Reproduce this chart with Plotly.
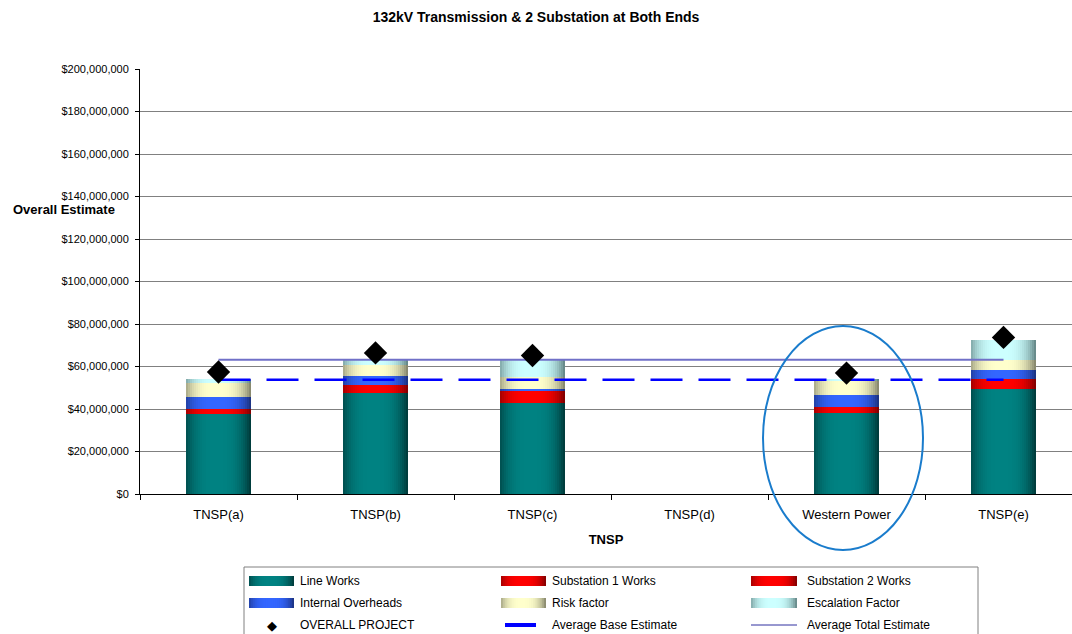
import plotly.graph_objects as go

# ---- data (AUD) ----
tnsp = ["TNSP(a)", "TNSP(b)", "TNSP(c)", "TNSP(d)", "Western Power", "TNSP(e)"]
line_works = [37.7e6, 47.5e6, 42.9e6, None, 38.1e6, 49.4e6]
substation_1 = [1.2e6, 1.9e6, 2.9e6, None, 1.4e6, 2.4e6]
substation_2 = [1.2e6, 1.9e6, 2.8e6, None, 1.4e6, 2.3e6]
internal_overheads = [5.7e6, 4.4e6, 0.9e6, None, 5.8e6, 4.4e6]
risk_factor = [6.4e6, 4.8e6, 5.4e6, None, 6.3e6, 4.7e6]
escalation_factor = [2.0e6, 2.7e6, 8.3e6, None, 1.2e6, 9.4e6]
overall_project = [57.4e6, 66.4e6, 65.2e6, None, 56.9e6, 73.7e6]
average_base = [53.8e6] * 6
average_total = [63.2e6] * 6
y_ticks = list(range(0, 200_000_001, 20_000_000))
y_tick_text = ["$" + format(v, ",") for v in y_ticks]

# ---- styling ----
FONT = "Liberation Sans, Arial, sans-serif"
W, H = 1072, 634
L, R, T, B = 140, 0, 69, 140
PW, PH = W - L - R, H - T - B
BAR_W = 0.414
N_SLICES = 32

segments = [
    ("Line Works", line_works, "#003636", "#008282"),
    ("Substation 1 Works", substation_1, "#7a0000", "#ff0000"),
    ("Substation 2 Works", substation_2, "#7a0000", "#ff0000"),
    ("Internal Overheads", internal_overheads, "#1a2f7a", "#3366ff"),
    ("Risk factor", risk_factor, "#7f7f66", "#ffffcc"),
    ("Escalation Factor", escalation_factor, "#5f8080", "#ccffff"),
]


def hex_rgb(h):
    h = h.lstrip("#")
    return tuple(int(h[i:i + 2], 16) for i in (0, 2, 4))


def blend(c_edge, c_mid, t):
    a, b = hex_rgb(c_edge), hex_rgb(c_mid)
    return "rgb(%d,%d,%d)" % tuple(round(a[k] + (b[k] - a[k]) * t) for k in range(3))


def shade(u):
    # cylinder-like lighting across the bar width
    v = abs(u - 0.47) / 0.53
    return max(0.0, 1.0 - v ** 3)


def px_x(px):
    return (px - L) / PW


def px_y(py):
    return (H - B - py) / PH


fig = go.Figure()

# stacked segments; each slice runs from its left edge to the right side of the
# column and is painted over the previous one, giving a seamless shaded column
bottom = [0.0 if v is not None else None for v in line_works]
for name, vals, edge, mid in segments:
    base = list(bottom)
    for i in range(N_SLICES):
        u = (i + 0.5) / N_SLICES
        sw = BAR_W / N_SLICES
        fig.add_trace(go.Bar(
            x=tnsp, y=vals, base=base,
            width=[BAR_W - i * sw] * len(tnsp),
            offset=[-BAR_W / 2 + i * sw] * len(tnsp),
            marker=dict(color=blend(edge, mid, shade(u)), line=dict(width=0)),
            name=name, showlegend=False, hoverinfo="skip",
        ))
    bottom = [b + v if (b is not None and v is not None) else None
              for b, v in zip(bottom, vals)]

fig.add_trace(go.Scatter(
    x=tnsp, y=average_total, mode="lines", name="Average Total Estimate",
    line=dict(color="#7070c8", width=2), showlegend=False,
))
fig.add_trace(go.Scatter(
    x=tnsp, y=average_base, mode="lines", name="Average Base Estimate",
    line=dict(color="#0000ff", width=2.5, dash="32px,16px"), showlegend=False,
))
fig.add_trace(go.Scatter(
    x=tnsp, y=overall_project, mode="markers", name="OVERALL PROJECT",
    marker=dict(symbol="diamond", size=18, color="black"), showlegend=False,
))

shapes = []
annotations = []

# ellipse highlighting Western Power
shapes.append(dict(type="circle", xref="paper", yref="paper",
                   x0=px_x(763), x1=px_x(923), y0=px_y(550), y1=px_y(326),
                   line=dict(color="#1a7ccc", width=2), layer="above"))

# legend frame
shapes.append(dict(type="rect", xref="paper", yref="paper",
                   x0=px_x(244), x1=px_x(978), y0=px_y(640), y1=px_y(567),
                   line=dict(color="#808080", width=1), fillcolor="white", layer="below"))

cols = [(249, 294, 298), (501, 546, 550), (751, 797, 805)]
rows = [581, 603, 625]
legend_items = [s for s in segments] + [
    ("OVERALL PROJECT", None, "marker", None),
    ("Average Base Estimate", None, "thick", None),
    ("Average Total Estimate", None, "thin", None),
]
for k, item in enumerate(legend_items):
    r, c = divmod(k, 3)
    x0, x1, xt = cols[c]
    yc = rows[r]
    name = item[0]
    if item[1] is not None:
        edge, mid = item[2], item[3]
        n = 24
        sw = (x1 - x0) / n
        for i in range(n):
            u = (i + 0.5) / n
            shapes.append(dict(type="rect", xref="paper", yref="paper",
                               x0=px_x(x0 + i * sw), x1=px_x(x1),
                               y0=px_y(yc + 5), y1=px_y(yc - 5),
                               line=dict(width=0), fillcolor=blend(edge, mid, shade(u))))
    elif item[2] == "marker":
        annotations.append(dict(xref="paper", yref="paper", x=px_x(272), y=px_y(yc),
                                text="◆", showarrow=False,
                                font=dict(size=13, color="black", family="DejaVu Sans"),
                                xanchor="center", yanchor="middle"))
    elif item[2] == "thick":
        shapes.append(dict(type="line", xref="paper", yref="paper",
                           x0=px_x(x0 + 4), x1=px_x(x0 + 35), y0=px_y(yc), y1=px_y(yc),
                           line=dict(color="#0000ff", width=4)))
    else:
        shapes.append(dict(type="line", xref="paper", yref="paper",
                           x0=px_x(x0), x1=px_x(x1), y0=px_y(yc), y1=px_y(yc),
                           line=dict(color="#3030a0", width=1)))
    annotations.append(dict(xref="paper", yref="paper", x=px_x(xt), y=px_y(yc),
                            text=name, showarrow=False, xanchor="left", yanchor="middle",
                            font=dict(size=12, color="black", family=FONT)))

# y-axis title, drawn horizontally
annotations.append(dict(xref="paper", yref="paper", x=px_x(11), y=px_y(209),
                        text="<b>Overall Estimate</b>", showarrow=False,
                        xanchor="left", yanchor="middle",
                        font=dict(size=13, color="black", family=FONT)))

fig.update_layout(
    width=W, height=H, autosize=False,
    margin=dict(l=L, r=R, t=T, b=B, pad=0),
    paper_bgcolor="white", plot_bgcolor="white",
    barmode="overlay", bargap=0,
    showlegend=False,
    font=dict(family=FONT, size=11, color="black"),
    title=dict(text="<b>132kV Transmission & 2 Substation at Both Ends</b>",
               x=0.5, xref="container", xanchor="center",
               y=1 - 17 / H, yref="container", yanchor="middle",
               font=dict(size=14, family=FONT, color="black")),
    xaxis=dict(
        type="category", categoryorder="array", categoryarray=tnsp,
        range=[-0.5, 5.5 - 10 / 157],
        showline=True, linecolor="black", linewidth=1,
        ticks="outside", tickson="boundaries", ticklen=5, tickcolor="black",
        ticklabelstandoff=8,
        showgrid=False, tickfont=dict(size=13),
        title=dict(text="<b>TNSP</b>", font=dict(size=13), standoff=14),
    ),
    yaxis=dict(
        range=[0, 200_000_000], tickvals=y_ticks, ticktext=y_tick_text,
        showline=True, linecolor="black", linewidth=1,
        ticks="outside", ticklen=4, tickcolor="black",
        ticklabelstandoff=4,
        showgrid=True, gridcolor="#808080", gridwidth=1.2,
        zeroline=False, tickfont=dict(size=11),
    ),
    shapes=shapes, annotations=annotations,
)

fig.write_html("out.html")
